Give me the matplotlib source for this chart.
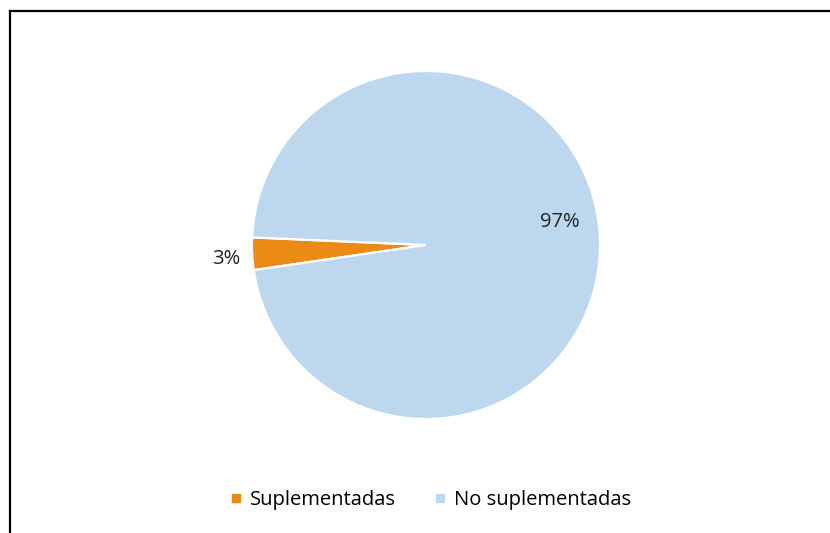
import matplotlib.pyplot as plt
import numpy as np
from matplotlib.lines import Line2D

labels = ["Suplementadas", "No suplementadas"]
values = [3, 97]
colors = ["#EB8A14", "#BDD7EE"]

plt.rcParams['font.family'] = ['Open Sans', 'DejaVu Sans']

fig = plt.figure(figsize=(8.3, 5.33), dpi=100)
W, H = 830, 533

# frame around the chart area (runs off the right and bottom edges)
fig.add_artist(Line2D([9.5 / W, 9.5 / W], [0, 1 - 10.5 / H], color="black", lw=1.6))
fig.add_artist(Line2D([9.5 / W, 1], [1 - 10.5 / H, 1 - 10.5 / H], color="black", lw=1.6))

cx, cy, r = 426, 245, 174
ax = fig.add_axes([(cx - r) / W, (H - cy - r) / H, 2 * r / W, 2 * r / H])
wedges, _ = ax.pie(values, colors=colors, startangle=177.5, counterclock=True,
                   wedgeprops=dict(edgecolor="white", linewidth=1.6), radius=1)
ax.set_xlim(-1, 1)
ax.set_ylim(-1, 1)
ax.set_aspect("equal")

# percentage labels
total = sum(values)
w0 = wedges[0]
mid = np.deg2rad((w0.theta1 + w0.theta2) / 2)
ax.text(1.15 * np.cos(mid), 1.15 * np.sin(mid) - 0.02, f"{values[0] / total:.0%}",
        ha="center", va="center", fontsize=14.5, color="#222222")
ax.text(0.77, 0.13, f"{values[1] / total:.0%}",
        ha="center", va="center", fontsize=14.5, color="#222222")

handles = [Line2D([], [], marker="s", linestyle="none", markersize=5.5,
                  markerfacecolor=c, markeredgecolor=c) for c in colors]
fig.legend(handles, labels, loc="center", bbox_to_anchor=(0.518, 1 - 500 / H),
           ncol=2, frameon=False, fontsize=14.5, handletextpad=0.35,
           columnspacing=1.8, handlelength=0.7)

fig.savefig("out.png", dpi=100)
